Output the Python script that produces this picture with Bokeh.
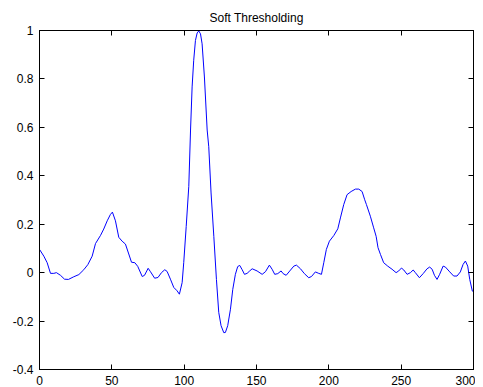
from bokeh.plotting import figure
from bokeh.models import Range1d, LinearAxis, FixedTicker, CustomJSTickFormatter
from bokeh.embed import file_html
from bokeh.resources import INLINE

title_text = "Soft Thresholding"
x_ticks = [0, 50, 100, 150, 200, 250, 300]
y_ticks = [-0.4, -0.2, 0, 0.2, 0.4, 0.6, 0.8, 1]

xs = [0, 3, 5.3, 7.6, 9.9, 11.7, 14.5, 17.3, 20, 23.7, 27.2, 30.6, 33.4, 36.4, 38.7,
      42.2, 44.4, 46.8, 49, 50.4, 52.5, 54.8, 57.1, 59.4, 61.7, 63.6, 65.9, 67.9,
      71, 72.6, 75.1, 76.7, 79.6, 81.9, 84.3, 86.6, 88.2, 90.5, 92.8, 95.1, 96.7,
      98.6, 99.7, 101.4, 103.2, 104.4, 105.5, 106.6, 107.8, 109, 110.1, 111.3,
      112.4, 114, 115.9, 117, 118.6, 120.5, 122.3, 123.9, 125.5, 127.4, 128.5,
      130.1, 132, 133.6, 135.4, 137, 138.4, 140.1, 141.7, 143.5, 145.3, 147,
      150.4, 153.9, 156.2, 158.9, 160.8, 162.6, 164.7, 167, 168.4, 170.5, 173,
      175.8, 177.6, 180.4, 183.1, 186.1, 188, 190.7, 193, 194.9, 196.5, 198.3,
      200.4, 203.4, 206.2, 208, 210.3, 212.6, 215.4, 218.4, 220.7, 223, 224.8,
      226, 228.7, 231, 232.7, 234, 235.7, 237.9, 240.7, 243.7, 246.5, 248.3,
      250.2, 251.8, 254.1, 256.4, 258.3, 259.8, 262.6, 265.2, 267.9, 269.7,
      271.4, 273, 274.8, 276.6, 279, 280.6, 283.6, 286.3, 288.6, 290.9, 292.8,
      294.4, 296, 297.4, 299.2, 300]
ys = [0.096, 0.068, 0.041, -0.003, -0.003, 0.0, -0.011, -0.027, -0.028, -0.017,
      -0.008, 0.012, 0.033, 0.068, 0.12, 0.154, 0.18, 0.214, 0.24, 0.25, 0.214,
      0.146, 0.13, 0.118, 0.077, 0.043, 0.041, 0.026, -0.016, -0.011, 0.018,
      0.004, -0.023, -0.02, 0.0, 0.012, 0.005, -0.027, -0.061, -0.075, -0.089,
      -0.041, 0.041, 0.19, 0.356, 0.589, 0.767, 0.877, 0.959, 0.99, 0.998,
      0.986, 0.945, 0.808, 0.589, 0.52, 0.329, 0.15, -0.028, -0.164, -0.219,
      -0.248, -0.247, -0.219, -0.151, -0.069, -0.007, 0.025, 0.03, 0.012,
      -0.007, -0.003, 0.007, 0.016, 0.007, -0.007, 0.004, 0.031, 0.014, -0.007,
      -0.004, 0.007, -0.004, -0.011, 0.007, 0.027, 0.031, 0.016, -0.004, -0.021,
      -0.016, 0.003, -0.003, -0.007, 0.041, 0.096, 0.13, 0.153, 0.181, 0.226,
      0.281, 0.322, 0.335, 0.345, 0.345, 0.335, 0.301, 0.281, 0.233, 0.185,
      0.15, 0.103, 0.075, 0.041, 0.027, 0.014, 0.0, 0.007, 0.019, 0.011,
      -0.007, 0.0, 0.011, 0.0, -0.021, -0.004, 0.016, 0.023, 0.014, -0.011,
      -0.028, -0.007, 0.027, 0.023, 0.003, -0.014, -0.014, 0.003, 0.034, 0.048,
      0.027, -0.028, -0.076, -0.08]

FONT = "Liberation Sans"

p = figure(width=475, height=387, output_backend="svg", toolbar_location=None,
           x_range=Range1d(0, 300), y_range=Range1d(-0.4, 1),
           min_border_left=39, min_border_right=2, min_border_top=30,
           min_border_bottom=17)
p.title.text = title_text
p.title.align = "center"
p.title.text_font = FONT
p.title.text_font_size = "12px"
p.title.text_font_style = "normal"
p.title.text_color = "#000000"
p.title.standoff = 12
p.xgrid.visible = False
p.ygrid.visible = False
p.outline_line_color = "#000000"
p.outline_line_width = 1
p.background_fill_color = "#ffffff"
p.border_fill_color = "#ffffff"

p.line(xs, ys, line_color="#0000ff", line_width=1)

for ax, ticks in ((p.xaxis[0], x_ticks), (p.yaxis[0], y_ticks)):
    ax.ticker = FixedTicker(ticks=ticks)
    ax.minor_tick_line_color = None
    ax.major_tick_in = 5
    ax.major_tick_out = 0
    ax.major_label_standoff = 6
    ax.major_label_text_font = FONT
    ax.major_label_text_font_size = "12px"
    ax.major_label_text_color = "#000000"
    ax.axis_line_color = "#000000"
    ax.major_tick_line_color = "#000000"
p.xaxis[0].major_label_overrides = {0: "0", 300: "300"}
p.yaxis[0].major_label_overrides = {-0.4: "-0.4", -0.2: "-0.2", 0: "0", 1: "1"}

blank = CustomJSTickFormatter(code="return '';")
top = LinearAxis(ticker=FixedTicker(ticks=x_ticks), formatter=blank,
                 major_tick_in=5, major_tick_out=0, minor_tick_line_color=None,
                 major_label_standoff=0, axis_line_color="#000000")
right = LinearAxis(ticker=FixedTicker(ticks=y_ticks), formatter=blank,
                   major_tick_in=5, major_tick_out=0, minor_tick_line_color=None,
                   major_label_standoff=0, axis_line_color="#000000")
p.add_layout(top, "above")
p.add_layout(right, "right")

open("out.html", "w").write(file_html(p, INLINE))
